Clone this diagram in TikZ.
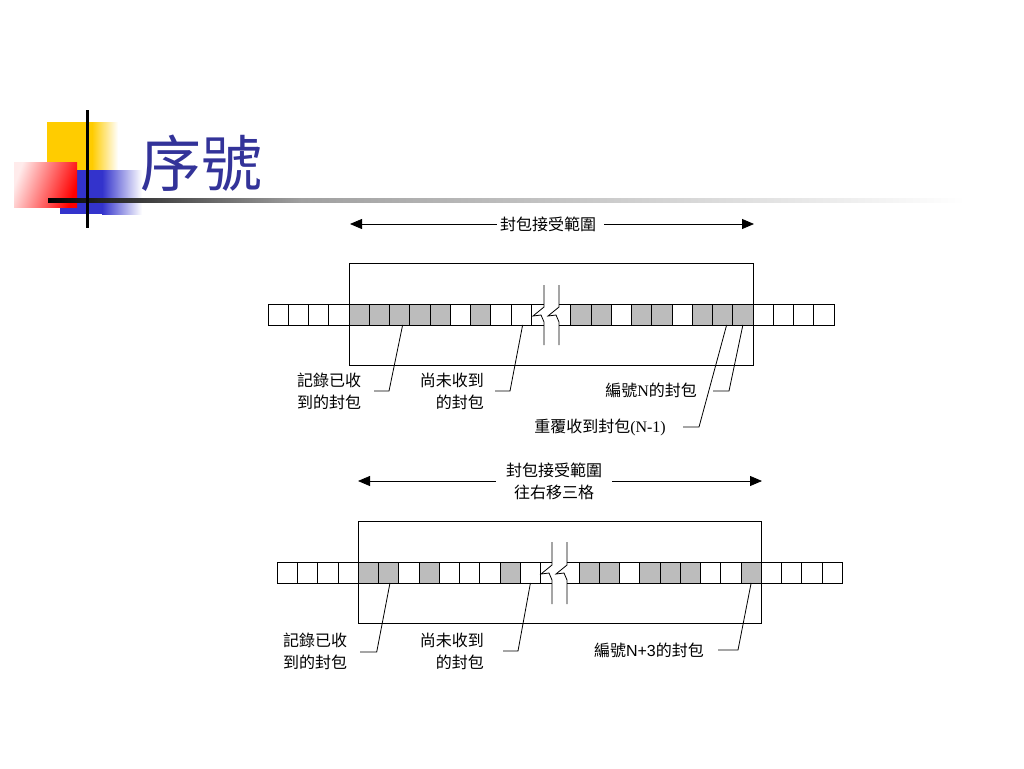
\documentclass[tikz,border=0pt]{standalone}
\usepackage{fontspec}
\setmainfont{Liberation Serif}
\newfontfamily\cjk{Noto Sans CJK TC}
\newfontfamily\lsans{Liberation Sans}
\usetikzlibrary{arrows.meta}
\definecolor{shadecell}{RGB}{188,188,188}
\definecolor{titleblue}{RGB}{51,51,153}
\definecolor{deyellow}{RGB}{255,204,0}
\definecolor{deblue}{RGB}{51,51,204}
\definecolor{dered}{RGB}{255,0,0}
\newcommand\pktbreak[4]{%
  \draw[cellline] (#1,#2) -- (#1,#3+3) -- (#1-11,#3+12) -- (#1-3,#3+11) -- (#1,#3+18) -- (#1,#4);%
}
\begin{document}
\begin{tikzpicture}[x=1pt,y=-1pt,
  cellline/.style={draw=black, line width=0.8pt},
  cellbox/.style={draw=black, line width=0.8pt, minimum width=20.25pt, minimum height=21pt, inner sep=0pt, outer sep=0pt},
  lbl/.style={font=\cjk\fontsize{16}{22}\selectfont, inner sep=0pt},
  leader/.style={draw=black, line width=0.8pt},
  window/.style={draw=black, line width=0.8pt, inner sep=0pt, minimum height=102pt},
  rangeL/.style={line width=0.8pt, {Triangle[length=12pt,width=10pt]}-},
  rangeR/.style={line width=0.8pt, -{Triangle[length=12pt,width=10pt]}},
]
\useasboundingbox (0,0) rectangle (1024,768);
\fill[white] (0,0) rectangle (1024,768);

% ---- decoration
\fill[deyellow] (47,122) rectangle (92,185);
\shade[left color=deyellow, right color=white] (92,122) rectangle (118,185);
\fill[deblue] (60,170) rectangle (102,214);
\shade[left color=deblue, right color=white] (102,170) rectangle (142,214);
\shade[left color=red!8, right color=dered, shading angle=70] (14,162) rectangle (77,207);
\shade[left color=black, right color=gray!75] (48,198) rectangle (300,202);
\shade[left color=gray!75, right color=white] (300,198) rectangle (965,202);
\fill[black] (85.5,110) rectangle (88.5,228);
\node[font=\cjk\fontsize{61}{61}\selectfont, text=titleblue, anchor=base west, inner sep=0pt] (title) at (140,186) {序號};

% ================= top diagram
\node[window, minimum width=404pt] (w1) at (551.3,314) {};
\foreach \i/\f in {0/white,1/white,2/white,3/white,4/shadecell,5/shadecell,6/shadecell,7/shadecell,8/shadecell,9/white,10/shadecell,11/white,12/white}
  \node[cellbox, fill=\f] (tL\i) at ({278.125+20.25*\i},314.5) {};
\foreach \i/\f in {0/shadecell,1/shadecell,2/white,3/shadecell,4/shadecell,5/white,6/shadecell,7/shadecell,8/shadecell,9/white,10/white,11/white,12/white}
  \node[cellbox, fill=\f] (tR\i) at ({580.875+20.25*\i},314.5) {};
\draw[cellline] (tL12.north east) -- (544,304) (tL12.south east) -- (544,325);
\draw[cellline] (559,304) -- (tR0.north west) (559,325) -- (tR0.south west);
\pktbreak{544}{285}{304}{345}
\pktbreak{559}{285}{304}{345}

\coordinate (r1a) at (350,224);
\coordinate (r1b) at (754,224);
\node[lbl, inner xsep=3pt] (r1t) at (548,224) {封包接受範圍};
\draw[rangeL] (r1a) -- (r1t.west);
\draw[rangeR] ([xshift=5pt]r1t.east) -- (r1b);

\node[lbl, align=left, anchor=west] (t1) at (297,391) {記錄已收\\到的封包};
\node[lbl, align=right, anchor=east] (t2) at (484,391) {尚未收到\\的封包};
\node[lbl, anchor=east] (t3) at (697,390) {編號{\rmfamily N}的封包};
\node[lbl, anchor=east] (t4) at (666,427) {重覆收到封包{\rmfamily (N-1)}};

\coordinate (k1) at (389,391); \coordinate (k1e) at (374,391);
\coordinate (k2) at (510,391); \coordinate (k2e) at (495,391);
\coordinate (k3) at (729,391); \coordinate (k3e) at (713,391);
\coordinate (k4) at (699,427); \coordinate (k4e) at (683,427);
\draw[leader] ([xshift=3pt]tL6.south) -- (k1) -- (k1e);
\draw[leader] ([xshift=1.5pt]tL12.south) -- (k2) -- (k2e);
\draw[leader] (tR8.south) -- (k3) -- (k3e);
\draw[leader] ([xshift=4pt]tR7.south) -- (k4) -- (k4e);

% ================= bottom diagram
\node[window, minimum width=403pt] (w2) at (559.8,572) {};
\foreach \i/\f in {0/white,1/white,2/white,3/white,4/shadecell,5/shadecell,6/white,7/shadecell,8/white,9/white,10/white,11/shadecell,12/white}
  \node[cellbox, fill=\f] (bL\i) at ({287.425+20.25*\i},572.5) {};
\foreach \i/\f in {0/shadecell,1/shadecell,2/white,3/shadecell,4/shadecell,5/shadecell,6/white,7/white,8/shadecell,9/white,10/white,11/white,12/white}
  \node[cellbox, fill=\f] (bR\i) at ({589.125+20.25*\i},572.5) {};
\draw[cellline] (bL12.north east) -- (552,562) (bL12.south east) -- (552,583);
\draw[cellline] (567,562) -- (bR0.north west) (567,583) -- (bR0.south west);
\pktbreak{552}{542}{562}{604}
\pktbreak{567}{542}{562}{604}

\coordinate (r2a) at (358,481);
\coordinate (r2b) at (762,481);
\node[lbl, align=center, inner xsep=10pt] (r2t) at (554,481) {封包接受範圍\\往右移三格};
\draw[rangeL] (r2a) -- (r2t.west);
\draw[rangeR] (r2t.east) -- (r2b);

\node[lbl, align=left, anchor=west] (b1) at (283,651) {記錄已收\\到的封包};
\node[lbl, align=right, anchor=east] (b2) at (484,651) {尚未收到\\的封包};
\node[lbl, anchor=east] (b3) at (704,650) {編號{\lsans N+3}的封包};

\coordinate (m1) at (376.7,652); \coordinate (m1e) at (360,652);
\coordinate (m2) at (518,651); \coordinate (m2e) at (503,651);
\coordinate (m3) at (738,650); \coordinate (m3e) at (718,650);
\draw[leader] ([xshift=1.3pt]bL5.south) -- (m1) -- (m1e);
\draw[leader] (bL12.south) -- (m2) -- (m2e);
\draw[leader] (bR8.south) -- (m3) -- (m3e);
\end{tikzpicture}
\end{document}
